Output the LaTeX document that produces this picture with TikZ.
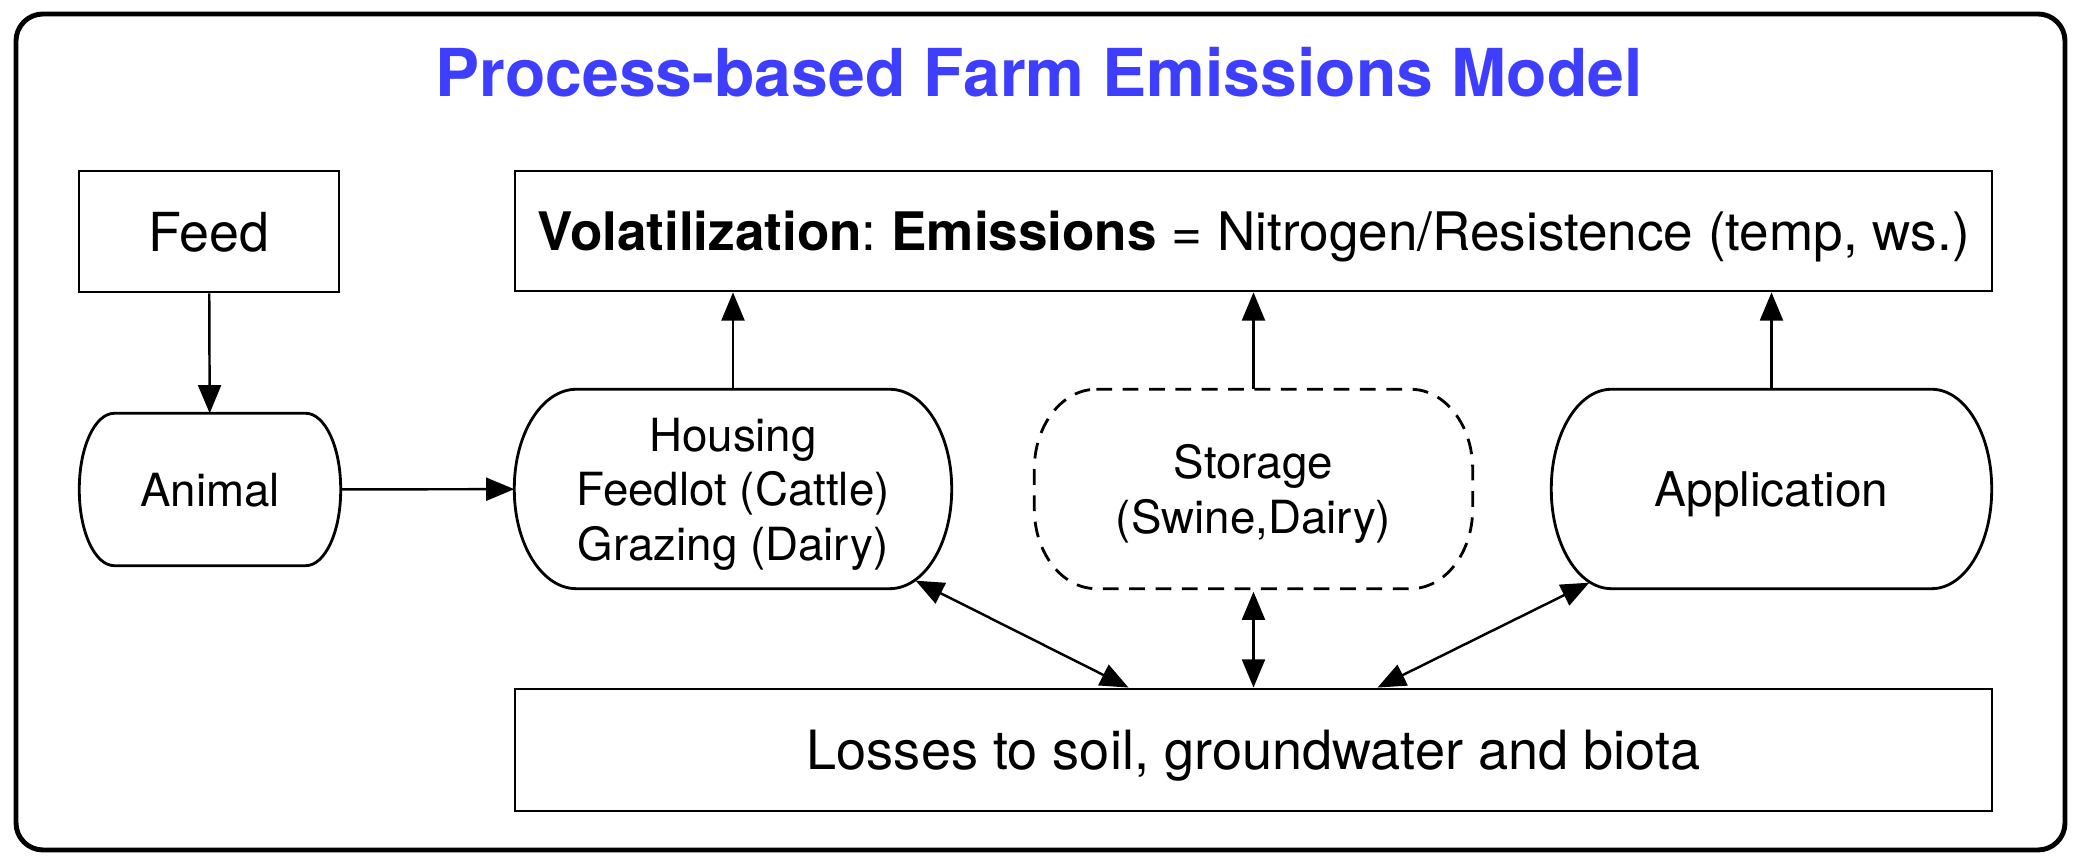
\documentclass[tikz,border=0pt]{standalone}
\usepackage{fontspec}
\setmainfont{TeX Gyre Heros}
\usepackage{xcolor}
\usepackage{tikz}
\usetikzlibrary{positioning,arrows.meta,calc}

\definecolor{titleblue}{RGB}{62,62,255}

% outline with elliptical corners round a node: name, x radius, y radius
\newcommand{\procline}[4][]{%
  \draw[line width=0.8pt,#1] ($(#2.north west)+(#3,0)$) -- ($(#2.north east)+(-#3,0)$)
    arc[start angle=90, end angle=0, x radius=#3, y radius=#4]
    -- ($(#2.south east)+(0,#4)$)
    arc[start angle=0, end angle=-90, x radius=#3, y radius=#4]
    -- ($(#2.south west)+(#3,0)$)
    arc[start angle=270, end angle=180, x radius=#3, y radius=#4]
    -- ($(#2.north west)+(0,-#4)$)
    arc[start angle=180, end angle=90, x radius=#3, y radius=#4] -- cycle;}

\begin{document}
\frenchspacing
\begin{tikzpicture}[
    frame/.style    = {draw=black, line width=1.4pt, rounded corners=0.27cm},
    title/.style    = {font=\fontsize{18.8}{22}\selectfont\bfseries, text=titleblue},
    box/.style      = {rectangle, draw=black, line width=0.8pt, inner sep=0pt, text depth=0pt,
                       align=center, font=\fontsize{15.3}{18}\selectfont},
    proc/.style     = {rectangle, inner sep=0pt, align=center, text depth=0pt,
                       minimum height=1.98cm, font=\fontsize{13}{15.5}\selectfont},
    arr/.style      = {-{Triangle[length=8pt,width=6.5pt]}, line width=0.7pt},
    twoway/.style   = {{Triangle[length=8pt,width=6.5pt]}-{Triangle[length=8pt,width=6.5pt]},
                       line width=0.7pt},
]
\useasboundingbox (0,0) rectangle (20.83,8.67);
\draw[frame] (0.16,0.17) rectangle (20.65,8.53);

\node[title, anchor=base] (title) at (10.39,7.70) {Process-based Farm Emissions Model};

% top row
\node[box, minimum width=2.60cm, minimum height=1.21cm] (feed) at (2.09,6.355) {Feed};
\node[box, minimum width=14.77cm, minimum height=1.20cm, font=\fontsize{15.1}{18}\selectfont]
     (volat) at (12.535,6.36)
     {\textbf{Volatilization}: \textbf{Emissions} = Nitrogen/Resistence (temp, ws.)};

% middle row
\node[proc, minimum width=2.60cm, minimum height=1.51cm] (animal) at (2.10,3.775) {Animal};
\node[proc, minimum width=4.36cm] (housing) at (7.33,3.78)
     {Housing\\Feedlot (Cattle)\\Grazing (Dairy)};
\node[proc, minimum width=4.37cm] (storage) at (12.535,3.78) {Storage\\(Swine,Dairy)};
\node[proc, minimum width=4.39cm, font=\fontsize{13.6}{16}\selectfont]
     (application) at (17.715,3.78) {Application};

\procline{animal}{0.35}{0.755}
\procline{housing}{0.62}{0.99}
\procline[dash pattern=on 4.5pt off 3pt]{storage}{0.62}{0.8}
\procline{application}{0.60}{0.99}

% bottom row
\node[box, minimum width=14.77cm, minimum height=1.22cm, font=\fontsize{15.4}{18}\selectfont]
     (losses) at (12.535,1.17) {Losses to soil, groundwater and biota};

% connectors
\coordinate (hs) at ($(housing.south east)+(-0.36,0.08)$);
\coordinate (as) at ($(application.south west)+(0.38,0.06)$);
\coordinate (lh) at ($(losses.north)+(-1.25,0)$);
\coordinate (la) at ($(losses.north)+(1.24,0)$);

\draw[arr] (feed) -- (animal);
\draw[arr] (animal) -- (housing);
\draw[arr] (housing.north) -- (housing.north |- volat.south);
\draw[arr] (storage.north) -- (storage.north |- volat.south);
\draw[arr] (application.north) -- (application.north |- volat.south);
\draw[twoway] (hs) -- (lh);
\draw[twoway] ($(storage.south)+(0,-0.03)$) -- (losses.north);
\draw[twoway] (as) -- (la);

\end{tikzpicture}
\end{document}
